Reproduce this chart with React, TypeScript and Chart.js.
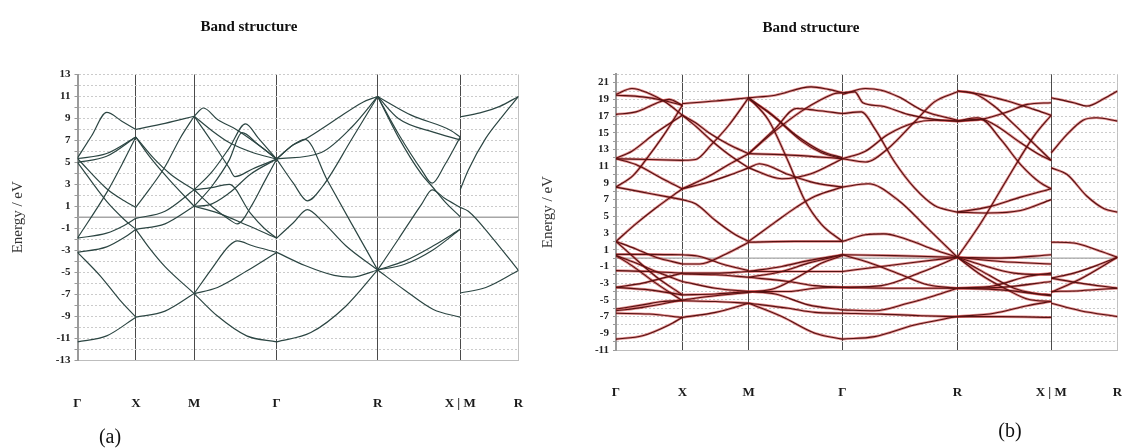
import React, { useEffect, useRef } from 'react';
import { Chart, registerables } from 'chart.js';

Chart.register(...registerables);

// ---------- shared k-path ----------
const kTicks = [0, 0.5, 1.0, 1.707, 2.573, 3.28, 3.78];
const kLabels = ['Γ', 'X', 'M', 'Γ', 'R', 'X | M', 'R'];
const fermiLevel = 0;

// ---------- panel (a) bands, [k, E] ----------
const aGX = [
  [[0, -11.35], [0.25, -10.8], [0.5, -9.1]],
  [[0, -3.2], [0.2, -5.4], [0.36, -7.5], [0.5, -9.1]],
  [[0, -3.2], [0.25, -2.7], [0.4, -1.85], [0.5, -1.1]],
  [[0, -1.9], [0.25, -1.45], [0.4, -0.75], [0.5, -0.1]],
  [[0, -1.9], [0.25, 2.24], [0.4, 5.2], [0.5, 7.3]],
  [[0, 5.4], [0.12, 7.4], [0.25, 9.55], [0.38, 8.75], [0.5, 8.0]],
  [[0, 5.35], [0.25, 5.8], [0.5, 7.3]],
  [[0, 5.0], [0.25, 5.55], [0.5, 7.3]],
  [[0, 5.35], [0.25, 2.6], [0.4, 1.5], [0.5, 0.9]],
  [[0, 5.0], [0.25, 1.44], [0.4, -0.2], [0.5, -1.1]],
];
const aXM = [
  [[0.5, -9.1], [0.75, -8.55], [1.0, -6.95]],
  [[0.5, -1.1], [0.62, -2.86], [0.75, -4.5], [1.0, -6.95]],
  [[0.5, -1.1], [0.75, -0.6], [1.0, 1.0]],
  [[0.5, -0.1], [0.75, 0.55], [1.0, 2.5]],
  [[0.5, 0.9], [0.62, 2.6], [0.75, 4.6], [0.88, 7.2], [1.0, 9.2]],
  [[0.5, 7.3], [0.65, 5.4], [0.8, 3.9], [1.0, 2.5]],
  [[0.5, 7.3], [0.62, 5.5], [0.78, 3.5], [1.0, 1.0]],
  [[0.5, 8.0], [0.75, 8.55], [1.0, 9.2]],
];
const aMG = [
  [[1.0, -6.95], [1.2, -9.0], [1.45, -10.8], [1.707, -11.35]],
  [[1.0, -6.95], [1.15, -4.7], [1.3, -2.6], [1.37, -2.15], [1.5, -2.6], [1.707, -3.2]],
  [[1.0, -6.95], [1.2, -6.4], [1.45, -4.9], [1.707, -3.2]],
  [[1.0, 1.0], [1.2, 0.4], [1.45, -0.7], [1.707, -1.9]],
  [[1.0, 2.5], [1.15, 4.1], [1.3, 6.3], [1.44, 8.5], [1.55, 7.2], [1.707, 5.3]],
  [[1.0, 1.0], [1.15, 2.8], [1.3, 5.2], [1.41, 7.7], [1.55, 6.6], [1.707, 5.3]],
  [[1.0, 9.2], [1.08, 9.95], [1.2, 8.9], [1.36, 8.0], [1.55, 6.6], [1.707, 5.3]],
  [[1.0, 9.2], [1.15, 6.9], [1.3, 4.5], [1.35, 3.7], [1.5, 4.4], [1.707, 5.3]],
  [[1.0, 9.2], [1.15, 7.9], [1.3, 6.8], [1.5, 5.9], [1.707, 5.3]],
  [[1.0, 2.5], [1.15, 2.7], [1.3, 3.0], [1.48, 0.4], [1.6, -1.0], [1.707, -1.9]],
  [[1.0, 1.0], [1.12, 1.1], [1.3, 2.2], [1.48, 3.9], [1.707, 5.3]],
  [[1.0, 2.5], [1.15, 1.0], [1.3, -0.2], [1.37, -0.6], [1.5, 1.2], [1.6, 3.2], [1.707, 5.3]],
];
const aGR = [
  [[1.707, -11.35], [2.0, -10.5], [2.3, -8.1], [2.573, -4.8]],
  [[1.707, -3.2], [1.95, -4.4], [2.2, -5.3], [2.35, -5.45], [2.573, -4.8]],
  [[1.707, -1.9], [1.85, -0.5], [1.97, 0.7], [2.1, -0.4], [2.3, -2.6], [2.573, -4.8]],
  [[1.707, 5.3], [1.85, 3.1], [1.97, 1.5], [2.1, 2.8], [2.35, 7.1], [2.573, 11.0]],
  [[1.707, 5.3], [1.85, 6.6], [1.95, 7.1], [2.2, 8.8], [2.45, 10.5], [2.573, 11.0]],
  [[1.707, 5.3], [2.09, 5.9], [2.35, 8.2], [2.573, 11.0]],
  [[1.707, 5.3], [1.85, 6.6], [1.95, 7.1], [2.14, 3.4], [2.35, -0.6], [2.573, -4.8]],
];
const aRX = [
  [[2.573, 11.0], [2.86, 9.3], [3.2, 7.9], [3.28, 7.3]],
  [[2.573, 11.0], [2.75, 9.0], [3.05, 7.75], [3.28, 7.05]],
  [[2.573, 11.0], [2.75, 7.6], [2.95, 4.3], [3.04, 3.1], [3.15, 4.8], [3.28, 7.3]],
  [[2.573, 11.0], [2.75, 7.3], [2.95, 3.9], [3.04, 2.8], [3.15, 1.4], [3.28, 0.05]],
  [[2.573, -4.8], [2.75, -2.0], [2.95, 1.2], [3.04, 2.5], [3.15, 1.7], [3.28, 0.9]],
  [[2.573, -4.8], [2.8, -4.0], [3.05, -2.6], [3.28, -1.1]],
  [[2.573, -4.8], [2.8, -4.3], [3.05, -2.95], [3.28, -1.1]],
  [[2.573, -4.8], [2.8, -6.6], [3.05, -8.4], [3.28, -9.1]],
];
const aMR = [
  [[3.28, 9.15], [3.45, 9.5], [3.62, 10.1], [3.78, 11.0]],
  [[3.28, 2.5], [3.35, 4.3], [3.5, 7.2], [3.65, 9.3], [3.78, 11.0]],
  [[3.28, 0.9], [3.35, 0.55], [3.55, -1.8], [3.78, -4.85]],
  [[3.28, -6.9], [3.5, -6.4], [3.78, -4.85]],
];

// ---------- panel (b) bands, [k, E] ----------
const bGX = [
  [[0, 19.6], [0.12, 20.3], [0.25, 19.7], [0.38, 18.6], [0.5, 17.1]],
  [[0, 19.5], [0.2, 19.3], [0.35, 18.9], [0.5, 18.3]],
  [[0, 17.2], [0.15, 17.5], [0.3, 18.5], [0.4, 19.0], [0.5, 18.3]],
  [[0, 11.95], [0.12, 12.8], [0.3, 15.0], [0.5, 17.1]],
  [[0, 11.9], [0.25, 11.8], [0.5, 11.7]],
  [[0, 11.9], [0.15, 11.2], [0.35, 9.5], [0.5, 8.3]],
  [[0, 8.5], [0.2, 7.9], [0.4, 7.3], [0.5, 7.0]],
  [[0, 8.5], [0.13, 9.9], [0.25, 12.3], [0.38, 15.2], [0.5, 18.3]],
  [[0, 2.0], [0.15, 4.1], [0.3, 6.0], [0.5, 8.3]],
  [[0, 2.0], [0.15, 1.1], [0.3, 0.1], [0.5, -0.7]],
  [[0, 2.0], [0.12, 0.3], [0.3, -2.2], [0.5, -4.4]],
  [[0, 0.45], [0.25, 0.45], [0.5, 0.4]],
  [[0, 0.3], [0.15, -0.6], [0.3, -1.6], [0.5, -2.8]],
  [[0, 0.3], [0.12, -0.9], [0.3, -3.0], [0.5, -5.1]],
  [[0, -1.5], [0.25, -1.6], [0.5, -1.8]],
  [[0, -3.5], [0.2, -3.0], [0.35, -2.4], [0.5, -1.8]],
  [[0, -3.5], [0.25, -3.8], [0.5, -4.4]],
  [[0, -6.1], [0.2, -5.6], [0.35, -5.2], [0.5, -5.1]],
  [[0, -6.3], [0.2, -5.9], [0.5, -5.0]],
  [[0, -6.6], [0.25, -6.7], [0.5, -7.1]],
  [[0, -9.7], [0.2, -9.3], [0.4, -8.0], [0.5, -7.1]],
];
const bXM = [
  [[0.5, 18.5], [0.75, 18.8], [1.0, 19.2]],
  [[0.5, 17.1], [0.6, 16.2], [0.7, 15.0], [0.85, 13.6], [1.0, 12.5]],
  [[0.5, 17.1], [0.6, 15.8], [0.71, 14.2], [0.85, 12.4], [1.0, 10.8]],
  [[0.5, 11.7], [0.6, 11.8], [0.72, 13.6], [0.85, 15.9], [1.0, 19.2]],
  [[0.5, 8.3], [0.7, 9.1], [0.85, 9.9], [1.0, 10.8]],
  [[0.5, 8.3], [0.7, 9.8], [0.85, 11.2], [1.0, 12.5]],
  [[0.5, 7.0], [0.6, 6.5], [0.75, 4.5], [0.9, 2.8], [1.0, 2.0]],
  [[0.5, -0.7], [0.63, -0.7], [0.83, 0.5], [1.0, 1.9]],
  [[0.5, 0.4], [0.63, 0.2], [0.8, -0.7], [1.0, -1.5]],
  [[0.5, -1.8], [0.75, -1.8], [1.0, -1.6]],
  [[0.5, -1.9], [0.75, -2.0], [1.0, -2.3]],
  [[0.5, -2.8], [0.75, -3.6], [1.0, -4.0]],
  [[0.5, -4.4], [0.75, -4.3], [1.0, -4.0]],
  [[0.5, -5.0], [0.75, -4.5], [1.0, -4.1]],
  [[0.5, -5.1], [0.75, -5.2], [1.0, -5.4]],
  [[0.5, -7.1], [0.75, -6.5], [1.0, -5.4]],
];
const bMG = [
  [[1.0, 19.2], [1.2, 19.5], [1.47, 20.5], [1.6, 20.2], [1.707, 19.8]],
  [[1.0, 19.2], [1.2, 16.8], [1.4, 14.0], [1.55, 12.6], [1.707, 11.9]],
  [[1.0, 19.0], [1.15, 17.5], [1.35, 14.8], [1.55, 12.8], [1.707, 12.0]],
  [[1.0, 12.5], [1.19, 15.1], [1.39, 17.5], [1.55, 19.0], [1.65, 19.7], [1.707, 19.8]],
  [[1.0, 12.5], [1.2, 15.5], [1.36, 17.9], [1.5, 17.7], [1.707, 17.3]],
  [[1.0, 12.5], [1.35, 12.3], [1.707, 11.9]],
  [[1.0, 10.8], [1.08, 11.3], [1.3, 10.0], [1.5, 9.0], [1.707, 8.5]],
  [[1.0, 10.8], [1.25, 9.5], [1.47, 10.1], [1.707, 11.9]],
  [[1.0, 1.9], [1.35, 2.0], [1.707, 2.0]],
  [[1.0, 2.0], [1.2, 4.3], [1.36, 6.1], [1.5, 7.4], [1.707, 8.5]],
  [[1.0, 19.2], [1.15, 16.5], [1.3, 11.5], [1.42, 7.0], [1.55, 4.0], [1.707, 2.0]],
  [[1.0, -5.4], [1.25, -7.0], [1.5, -9.0], [1.707, -9.7]],
  [[1.0, -5.4], [1.3, -6.0], [1.5, -6.5], [1.707, -6.6]],
  [[1.0, -4.0], [1.2, -4.3], [1.45, -5.6], [1.707, -6.2]],
  [[1.0, -4.0], [1.3, -4.0], [1.5, -3.6], [1.707, -3.5]],
  [[1.0, -4.1], [1.2, -3.6], [1.4, -2.0], [1.55, -0.6], [1.707, 0.3]],
  [[1.0, -2.3], [1.25, -1.6], [1.45, -0.6], [1.707, 0.4]],
  [[1.0, -1.6], [1.25, -1.0], [1.45, -0.3], [1.707, 0.4]],
  [[1.0, -1.6], [1.35, -1.6], [1.707, -1.6]],
  [[1.0, -2.3], [1.3, -2.8], [1.5, -3.3], [1.707, -3.5]],
];
const bGR = [
  [[1.707, 19.6], [1.88, 20.3], [2.0, 20.1], [2.13, 19.3], [2.32, 17.6], [2.573, 16.5]],
  [[1.707, 19.8], [1.8, 19.9], [1.86, 18.6], [2.0, 18.2], [2.2, 17.2], [2.4, 16.6], [2.573, 16.4]],
  [[1.707, 17.3], [1.85, 17.5], [1.95, 15.5], [2.1, 11.5], [2.25, 8.4], [2.4, 6.3], [2.573, 5.5]],
  [[1.707, 11.9], [1.88, 11.5], [2.05, 13.1], [2.25, 16.3], [2.4, 18.7], [2.573, 19.9]],
  [[1.707, 11.9], [1.88, 12.8], [2.05, 14.8], [2.25, 16.2], [2.4, 16.5], [2.573, 16.4]],
  [[1.707, 8.5], [1.9, 8.9], [2.13, 6.9], [2.34, 3.7], [2.573, 0.1]],
  [[1.707, 2.0], [1.88, 2.8], [2.02, 2.9], [2.2, 2.2], [2.4, 1.0], [2.573, 0.1]],
  [[1.707, 0.4], [2.1, 0.3], [2.573, 0.1]],
  [[1.707, 0.4], [1.9, -0.5], [2.15, -2.0], [2.35, -3.2], [2.573, -3.6]],
  [[1.707, -1.6], [2.0, -1.0], [2.3, -0.4], [2.573, 0.1]],
  [[1.707, -3.5], [2.1, -3.6], [2.573, -3.6]],
  [[1.707, -3.5], [2.0, -3.3], [2.3, -1.7], [2.573, 0.1]],
  [[1.707, -6.2], [1.95, -6.3], [2.2, -5.4], [2.4, -4.5], [2.573, -3.6]],
  [[1.707, -6.6], [2.0, -6.7], [2.3, -6.9], [2.573, -7.0]],
  [[1.707, -9.7], [1.95, -9.4], [2.25, -8.0], [2.573, -7.0]],
];
const bRX = [
  [[2.573, 20.0], [2.75, 19.6], [2.95, 18.8], [3.15, 17.8], [3.28, 17.1]],
  [[2.573, 20.0], [2.7, 19.7], [2.85, 18.2], [3.0, 16.0], [3.15, 13.7], [3.28, 11.7]],
  [[2.573, 16.4], [2.75, 16.6], [2.95, 17.5], [3.1, 18.4], [3.28, 18.6]],
  [[2.573, 16.4], [2.72, 16.8], [2.85, 16.0], [3.05, 13.8], [3.2, 12.3], [3.28, 11.7]],
  [[2.573, 16.4], [2.75, 16.6], [2.9, 14.2], [3.05, 11.2], [3.2, 9.0], [3.28, 8.3]],
  [[2.573, 0.1], [2.75, 4.2], [2.95, 9.5], [3.15, 14.6], [3.28, 17.1]],
  [[2.573, 5.5], [2.8, 5.4], [3.05, 5.7], [3.28, 7.0]],
  [[2.573, 5.5], [2.8, 6.1], [3.05, 7.3], [3.28, 8.3]],
  [[2.573, 0.1], [2.9, 0.0], [3.28, 0.4]],
  [[2.573, 0.1], [2.9, -0.4], [3.28, -0.7]],
  [[2.573, 0.1], [2.75, -0.8], [3.0, -1.8], [3.28, -2.0]],
  [[2.573, 0.1], [2.75, -1.5], [3.0, -3.6], [3.15, -4.2], [3.28, -4.4]],
  [[2.573, 0.1], [2.75, -2.0], [2.95, -3.8], [3.1, -4.9], [3.28, -5.2]],
  [[2.573, -3.6], [2.85, -3.3], [3.1, -2.2], [3.28, -1.8]],
  [[2.573, -3.6], [2.9, -3.5], [3.28, -2.8]],
  [[2.573, -3.6], [2.9, -3.8], [3.28, -4.5]],
  [[2.573, -7.0], [2.85, -6.6], [3.1, -5.7], [3.28, -5.2]],
  [[2.573, -7.0], [2.9, -7.0], [3.28, -7.1]],
];
const bMR = [
  [[3.28, 19.2], [3.45, 18.6], [3.55, 18.2], [3.68, 19.1], [3.78, 20.0]],
  [[3.28, 12.6], [3.4, 14.8], [3.52, 16.5], [3.62, 16.8], [3.78, 16.4]],
  [[3.28, 10.8], [3.4, 10.0], [3.55, 7.4], [3.68, 5.9], [3.78, 5.5]],
  [[3.28, 1.9], [3.45, 1.8], [3.62, 1.0], [3.78, 0.1]],
  [[3.28, -2.4], [3.45, -1.8], [3.62, -0.9], [3.78, 0.1]],
  [[3.28, -2.4], [3.5, -3.0], [3.78, -3.6]],
  [[3.28, -4.0], [3.5, -3.9], [3.78, -3.6]],
  [[3.28, -4.1], [3.5, -2.5], [3.78, 0.1]],
  [[3.28, -5.4], [3.5, -6.3], [3.78, -7.0]],
];

const H = 448;

const panelA = {
  left: 0, w: 530, plotLeft: 77.5, plotRight: 518.5, plotTop: 74.5, plotBottom: 360,
  yMin: -13, yMax: 13, xPad: 35.8, color: '#2c4643', lw: 1.2, halo: null,
  groups: [aGX, aXM, aMG, aGR, aRX, aMR],
};
const panelB = {
  left: 530, w: 592, plotLeft: 86, plotRight: 587.5, plotTop: 74.3, plotBottom: 350,
  yMin: -11, yMax: 22, xPad: 34.8, color: '#561212', lw: 1.1, halo: 'rgba(200,30,30,0.5)',
  groups: [bGX, bXM, bMG, bGR, bRX, bMR],
};

function buildConfig(p: any): any {
  const kMax = kTicks[kTicks.length - 1];
  const last = kTicks.length - 1;
  const datasets: any[] = [
    {
      data: [{ x: 0, y: fermiLevel }, { x: kMax, y: fermiLevel }],
      showLine: true, borderColor: '#a6a6a6', borderWidth: 1.3, pointRadius: 0, order: 3,
    },
  ];
  for (const g of p.groups) {
    for (const curve of g) {
      const pts = curve.map(([x, y]: number[]) => ({ x, y }));
      if (p.halo) {
        datasets.push({
          data: pts, showLine: true, borderColor: p.halo, borderWidth: 2.6,
          pointRadius: 0, cubicInterpolationMode: 'monotone', order: 2,
        });
      }
      datasets.push({
        data: pts, showLine: true, borderColor: p.color, borderWidth: p.lw,
        pointRadius: 0, cubicInterpolationMode: 'monotone', order: 0,
      });
    }
  }
  return {
    type: 'scatter',
    data: { datasets },
    options: {
      responsive: false,
      animation: false,
      events: [],
      layout: { padding: { left: 0, top: p.plotTop, right: p.w - p.plotRight, bottom: 0 } },
      plugins: { legend: { display: false }, tooltip: { enabled: false }, title: { display: false } },
      scales: {
        x: {
          type: 'linear', min: 0, max: kMax,
          afterBuildTicks: (s: any) => { s.ticks = kTicks.map((v) => ({ value: v })); },
          afterFit: (s: any) => {
            s.height = H - p.plotBottom;
            s.paddingLeft = 0;
            s.paddingRight = 0;
          },
          ticks: {
            autoSkip: false, maxRotation: 0, minRotation: 0, padding: p.xPad,
            font: { family: 'Liberation Serif', size: 13, weight: 'bold' }, color: '#1a1a1a',
            callback: (_v: any, i: number) => kLabels[i],
          },
          grid: {
            drawTicks: false, lineWidth: 1,
            color: (c: any) => (c.index === 0 ? '#9a9a9a' : c.index === last ? '#c0c0c0' : '#4a4a4a'),
          },
          border: { display: true, color: '#bdbdbd', width: 1 },
        },
        y: {
          type: 'linear', min: p.yMin, max: p.yMax,
          afterBuildTicks: (s: any) => {
            const t: any[] = [];
            for (let v = p.yMin; v <= p.yMax; v++) t.push({ value: v });
            s.ticks = t;
          },
          afterFit: (s: any) => { s.width = p.plotLeft; },
          ticks: {
            autoSkip: false, padding: 4,
            font: { family: 'Liberation Serif', size: 11, weight: 'bold' }, color: '#222',
            callback: (v: any) => (Math.abs(v) % 2 === 1 ? String(v) : ''),
          },
          grid: { color: '#cbcbcb', lineWidth: 1, drawTicks: true, tickLength: 3, tickColor: '#9a9a9a' },
          border: { display: true, color: '#9a9a9a', width: 2, dash: [2, 2] },
          title: {
            display: true, text: 'Energy / eV',
            font: { family: 'Liberation Serif', size: 15 }, color: '#333',
            padding: { top: 9, bottom: 0 },
          },
        },
      },
    },
  };
}

function BandPanel({ spec }: { spec: any }) {
  const ref = useRef<HTMLCanvasElement>(null);
  useEffect(() => {
    const chart = new Chart(ref.current as HTMLCanvasElement, buildConfig(spec));
    return () => chart.destroy();
  }, [spec]);
  return (
    <canvas
      ref={ref}
      width={spec.w}
      height={H}
      style={{ position: 'absolute', left: spec.left, top: 0, width: spec.w, height: H }}
    />
  );
}

const textBase: any = { position: 'absolute', transform: 'translate(-50%, -50%)', whiteSpace: 'nowrap', color: '#111' };

export default function App() {
  return (
    <div style={{ position: 'absolute', left: 0, top: 0, width: 1122, height: H, background: '#fff', overflow: 'hidden' }}>
      <BandPanel spec={panelA} />
      <BandPanel spec={panelB} />
      <div style={{ ...textBase, left: 249, top: 26, font: 'bold 15px "Liberation Serif"' }}>Band structure</div>
      <div style={{ ...textBase, left: 811, top: 27, font: 'bold 15px "Liberation Serif"' }}>Band structure</div>
      <div style={{ ...textBase, left: 110, top: 436, font: '20px "Liberation Serif"' }}>(a)</div>
      <div style={{ ...textBase, left: 1010, top: 430, font: '20px "Liberation Serif"' }}>(b)</div>
    </div>
  );
}
